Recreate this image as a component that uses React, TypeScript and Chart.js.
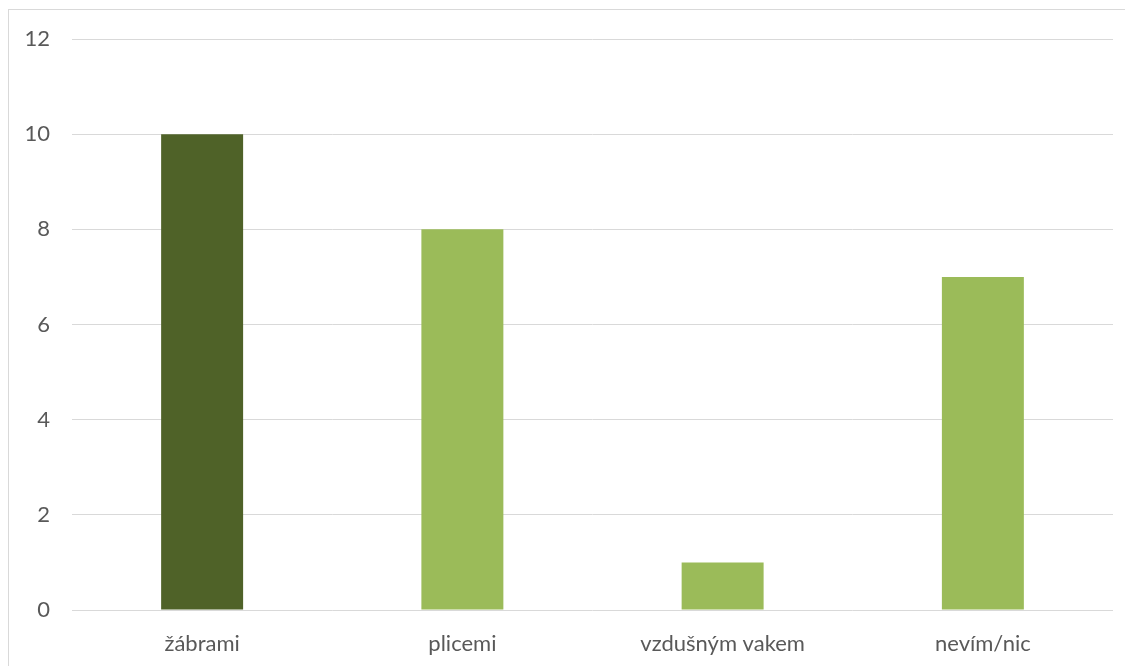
import React, { useEffect, useRef } from "react";
import { Chart, registerables } from "chart.js";

Chart.register(...registerables);

const categories = ["žábrami", "plicemi", "vzdušným vakem", "nevím/nic"];
const values = [10, 8, 1, 7];
const barColors = ["#4F6228", "#9BBB59", "#9BBB59", "#9BBB59"];
const yMin = 0;
const yMax = 12;
const yStep = 2;

export default function App() {
  const ref = useRef<HTMLCanvasElement | null>(null);
  useEffect(() => {
    document.body.style.overflow = "hidden";
    const chart = new Chart(ref.current!, {
      type: "bar",
      data: {
        labels: categories,
        datasets: [
          {
            data: values,
            backgroundColor: barColors,
            borderWidth: 0,
            categoryPercentage: 1,
            barPercentage: 0.315,
          },
        ],
      },
      options: {
        animation: false,
        responsive: false,
        maintainAspectRatio: false,
        layout: { padding: { left: 0, right: 20, top: 29, bottom: 0 } },
        plugins: { legend: { display: false }, tooltip: { enabled: false } },
        scales: {
          x: {
            grid: { display: false, drawTicks: false },
            border: { display: false },
            ticks: {
              color: "#595959",
              font: { family: "Lato, 'Open Sans', sans-serif", size: 22 },
              padding: 21,
            },
            afterFit: (s: any) => {
              s.height = 56;
            },
          },
          y: {
            min: yMin,
            max: yMax,
            grid: {
              color: "#D9D9D9",
              lineWidth: 1,
              drawTicks: true,
              tickLength: 22,
              tickColor: "rgba(0,0,0,0)",
            },
            border: { display: false },
            ticks: {
              stepSize: yStep,
              color: "#595959",
              font: { family: "Lato, 'Open Sans', sans-serif", size: 22 },
              padding: 0,
            },
            afterFit: (s: any) => {
              s.width = 63;
            },
          },
        },
      },
    });
    return () => chart.destroy();
  }, []);
  return (
    <div
      style={{
        position: "relative",
        width: 1125,
        height: 657,
        marginTop: 1,
        borderLeft: "1px solid #D9D9D9",
        borderTop: "1px solid #D9D9D9",
        boxSizing: "border-box",
        background: "#fff",
      }}
    >
      <canvas ref={ref} width={1124} height={656} style={{ display: "block" }} />
    </div>
  );
}
